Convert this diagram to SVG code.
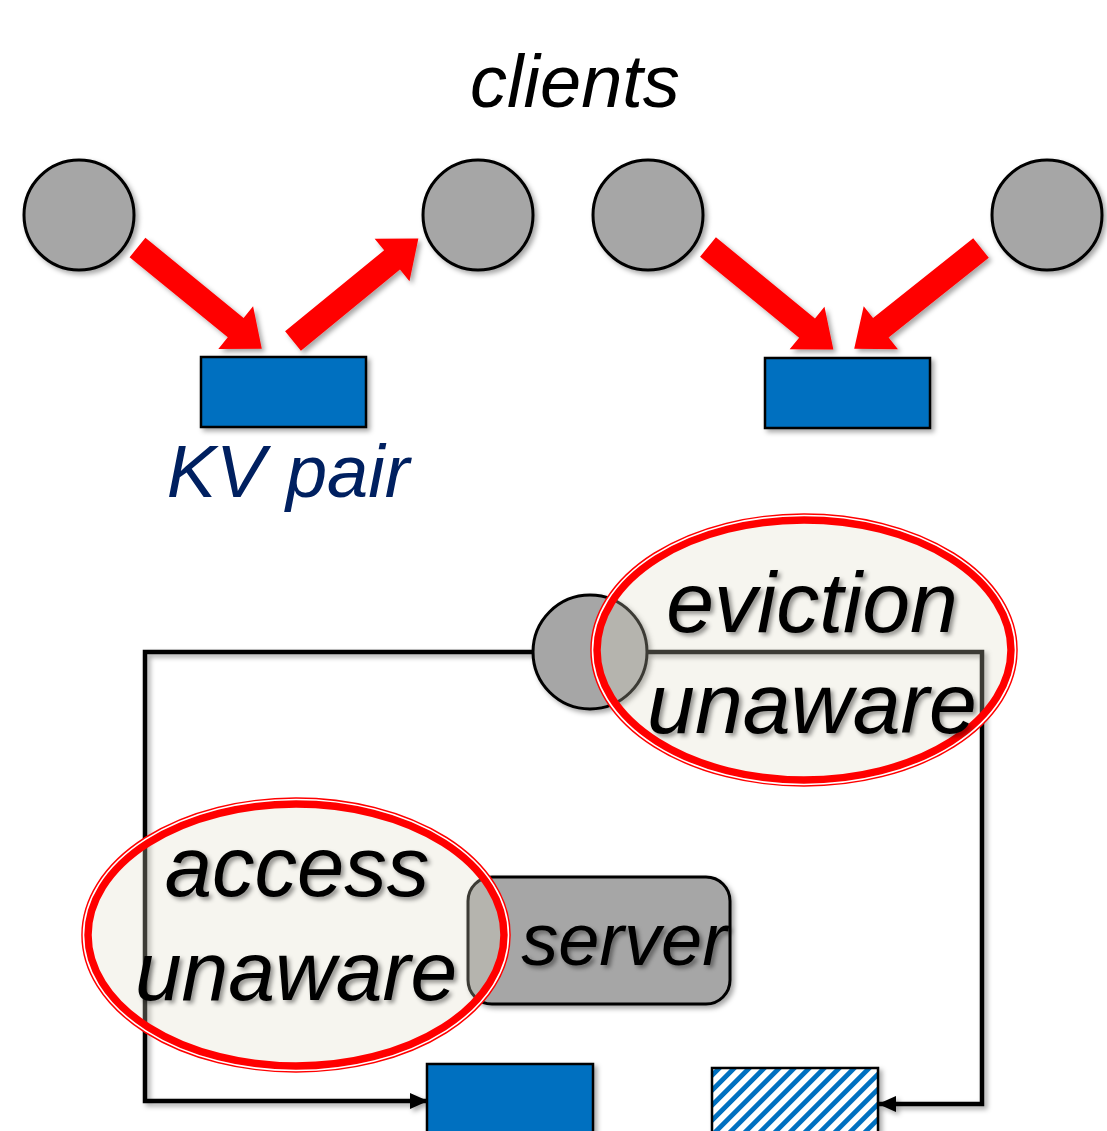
<svg xmlns="http://www.w3.org/2000/svg" width="1107" height="1131" viewBox="0 0 1107 1131">
<defs>
<filter id="sh" x="-20%" y="-20%" width="150%" height="150%">
<feDropShadow dx="3" dy="3" stdDeviation="2.5" flood-color="#000" flood-opacity="0.35"/>
</filter>
<filter id="tsh" x="-10%" y="-10%" width="130%" height="140%">
<feDropShadow dx="3" dy="3" stdDeviation="2" flood-color="#000" flood-opacity="0.4"/>
</filter>
<pattern id="hatch" patternUnits="userSpaceOnUse" width="10.6" height="10" patternTransform="rotate(45)">
<rect width="10.6" height="10" fill="#fff"/>
<rect x="0" y="0" width="4.8" height="10" fill="#0070C0"/>
</pattern>
<marker id="ah" markerWidth="18" markerHeight="16" refX="17" refY="8" orient="auto" markerUnits="userSpaceOnUse">
<path d="M0,0 L18,8 L0,16 Z" fill="#000"/>
</marker>
<path id="barrow" d="M0,-12.5 L128,-12.5 L128,-27.5 L162,0 L128,27.5 L128,12.5 L0,12.5 Z"/>
</defs>
<style>
.cl{fill:#A6A6A6;stroke:#000;stroke-width:3}
.kv{fill:#0070C0;stroke:#000;stroke-width:2.5}
.ra{fill:#FF0000}
.ln{fill:none;stroke:#000;stroke-width:4.5;stroke-linejoin:miter}
.t{font-family:"Liberation Sans",Arial,sans-serif;font-style:italic;text-anchor:middle}
.ring{fill:#DDDBC4;fill-opacity:0.27;stroke:#FF0000;stroke-width:10.5}
.gap{fill:none;stroke:#fff;stroke-width:1.6}
</style>
<rect width="1107" height="1131" fill="#fff"/>

<text class="t" x="575" y="107" font-size="74" fill="#000">clients</text>

<g id="connectors">
<g filter="url(#sh)">
<use href="#barrow" class="ra" transform="translate(137.5,247.5) rotate(39.2) scale(0.99,1)"/>
<use href="#barrow" class="ra" transform="translate(293,341) rotate(-39.3)"/>
<use href="#barrow" class="ra" transform="translate(708,247) rotate(39.3)"/>
<use href="#barrow" class="ra" transform="translate(981,248) rotate(141.5)"/>
</g>
<g filter="url(#sh)">
<path class="ln" d="M533,652 H145 V1101 H427" marker-end="url(#ah)"/>
<path class="ln" d="M647,652 H982 V1104 H879" marker-end="url(#ah)"/>
</g>
</g>

<g id="client1"><circle class="cl" cx="79" cy="215" r="55" filter="url(#sh)"/></g>
<g id="client2"><circle class="cl" cx="478" cy="215" r="55" filter="url(#sh)"/></g>
<g id="client3"><circle class="cl" cx="648" cy="215" r="55" filter="url(#sh)"/></g>
<g id="client4"><circle class="cl" cx="1047" cy="215" r="55" filter="url(#sh)"/></g>

<g id="kv1"><rect class="kv" x="201" y="357" width="165" height="70" filter="url(#sh)"/>
<text class="t" x="288" y="497" font-size="74" fill="#002060">KV pair</text></g>
<g id="kv2"><rect class="kv" x="765" y="358" width="165" height="70" filter="url(#sh)"/></g>

<g id="client5"><circle class="cl" cx="590" cy="652" r="57" filter="url(#sh)"/></g>

<g id="server"><rect x="468" y="877" width="262" height="127" rx="24" ry="24" fill="#A6A6A6" stroke="#000" stroke-width="3" filter="url(#sh)"/>
<text class="t" x="624" y="965" font-size="74" fill="#000" filter="url(#tsh)">server</text></g>

<g id="kv3"><rect class="kv" x="427" y="1064" width="166" height="80" filter="url(#sh)"/></g>
<g id="kv4"><rect x="712" y="1068" width="166" height="80" fill="url(#hatch)" stroke="#000" stroke-width="2.5" filter="url(#sh)"/></g>

<g id="eviction">
<ellipse class="ring" cx="804" cy="650" rx="208.5" ry="131.5"/>
<ellipse class="gap" cx="804" cy="650" rx="211.5" ry="134.5"/>
<text class="t" x="812" y="632" font-size="86" fill="#000" filter="url(#tsh)">eviction</text>
<text class="t" x="812" y="733" font-size="86" fill="#000" filter="url(#tsh)">unaware</text>
</g>

<g id="access">
<ellipse class="ring" cx="296" cy="935" rx="209.5" ry="132.5"/>
<ellipse class="gap" cx="296" cy="935" rx="212.5" ry="135.5"/>
<text class="t" x="297" y="896" font-size="85" fill="#000" filter="url(#tsh)">access</text>
<text class="t" x="296" y="1000" font-size="84" fill="#000" filter="url(#tsh)">unaware</text>
</g>
</svg>
